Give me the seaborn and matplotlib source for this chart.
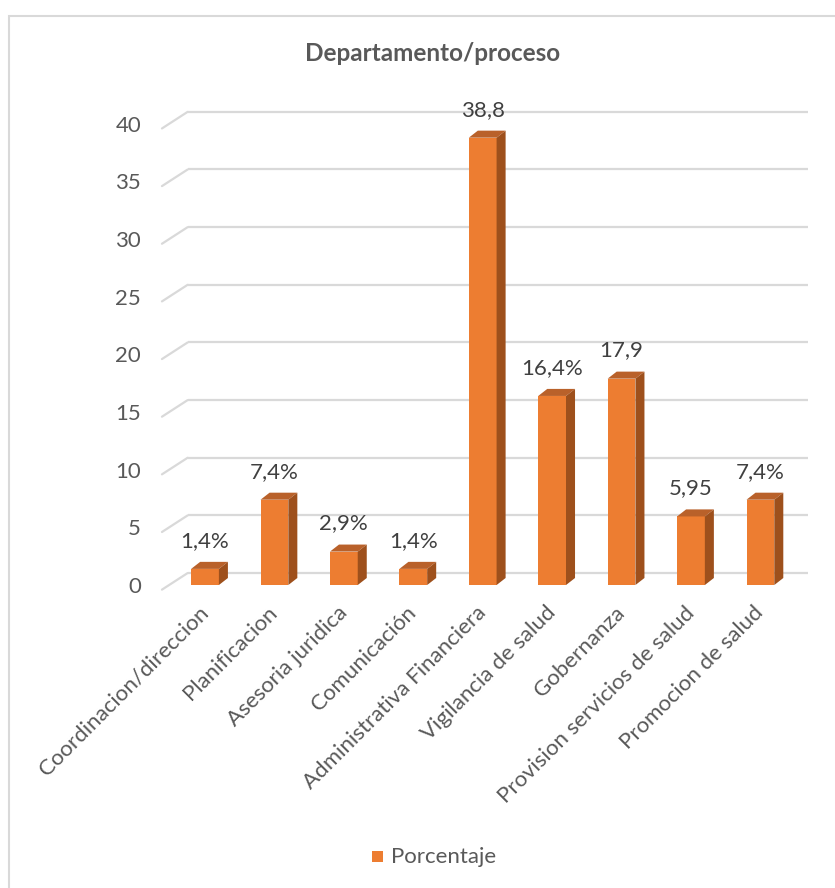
import matplotlib
matplotlib.use("Agg")
import matplotlib.pyplot as plt
from matplotlib.patches import Polygon, Rectangle
import pandas as pd
import seaborn as sns


categories = ["Coordinacion/direccion", "Planificacion", "Asesoria juridica",
              "Comunicación", "Administrativa Financiera", "Vigilancia de salud",
              "Gobernanza", "Provision servicios de salud", "Promocion de salud"]
porcentaje = [1.4, 7.4, 2.9, 1.4, 38.8, 16.4, 17.9, 5.95, 7.4]
labels = ["1,4%", "7,4%", "2,9%", "1,4%", "38,8", "16,4%", "17,9", "5,95", "7,4%"]
yticks = [0, 5, 10, 15, 20, 25, 30, 35, 40]

ORANGE = "#ED7D31"
SIDE = "#9E501C"
TOP = "#B9612A"
GRID = "#D9D9D9"
TXT = "#595959"
FS = 16


def main():
    sns.set_style("white")
    plt.rcParams["font.family"] = ["Lato", "DejaVu Sans"]

    df = pd.DataFrame({"cat": categories, "val": porcentaje})

    fig = plt.figure(figsize=(8.35, 8.88), dpi=100)
    ax = fig.add_axes([0.179, 0.3243, 0.794, 0.5687])

    sns.barplot(data=df, x="cat", y="val", order=categories, color=ORANGE,
                width=0.4, saturation=1, linewidth=0, ax=ax, zorder=3)

    ax.set_xlim(-0.8, 8.75)
    ax.set_ylim(-1.3, 42.5)

    # depth of the fake 3d effect (data units)
    ddx, ddy = 0.13, 0.61
    # back wall offsets
    wx0, wx1, back = -0.62, -0.25, 1.04
    for v in yticks:
        ax.plot([wx1, 8.69], [v + back, v + back], color=GRID, lw=1.6, zorder=1,
                solid_capstyle="butt")
        ax.plot([wx0, wx1], [v - 0.4, v + back], color=GRID, lw=1.6, zorder=1)

    for p, lab in zip(ax.patches, labels):
        x0 = p.get_x()
        x1 = x0 + p.get_width()
        h = p.get_height()
        ax.add_patch(Polygon([(x0, h), (x1, h), (x1 + ddx, h + ddy), (x0 + ddx, h + ddy)],
                             closed=True, facecolor=TOP, edgecolor="none", zorder=3))
        ax.add_patch(Polygon([(x1, 0), (x1 + ddx, ddy), (x1 + ddx, h + ddy), (x1, h)],
                             closed=True, facecolor=SIDE, edgecolor="none", zorder=3))
        ax.annotate(lab, (x0 + p.get_width() / 2, h), xytext=(0, 13),
                    textcoords="offset points", ha="center", va="bottom",
                    fontsize=FS, color="#404040", zorder=4)

    ax.set_yticks(yticks)
    ax.set_yticklabels([str(v) for v in yticks], fontsize=FS, color=TXT)
    ax.tick_params(axis="y", length=0, pad=6)
    ax.set_xticks(range(len(categories)))
    ax.set_xticklabels(categories, fontsize=FS, color=TXT, rotation=45,
                       ha="right", va="center", rotation_mode="anchor")
    ax.tick_params(axis="x", length=0, pad=7)
    ax.set_xlabel("")
    ax.set_ylabel("")
    for s in ax.spines.values():
        s.set_visible(False)

    fig.text(0.518, 0.94, "Departamento/proceso", ha="center", va="center",
             fontsize=17.5, fontweight="bold", color=TXT)

    # legend
    fig.patches.append(Rectangle((372 / 835, 1 - 862 / 888), 11 / 835, 11 / 888,
                                 transform=fig.transFigure, facecolor=ORANGE,
                                 edgecolor="none"))
    fig.text(391 / 835, 1 - 857 / 888, "Porcentaje", ha="left", va="center",
             fontsize=FS, color=TXT)

    # chart border
    fig.patches.append(Rectangle((9 / 835, -0.1), 1.1, 1 - 16 / 888 + 0.1,
                                 transform=fig.transFigure, facecolor="none",
                                 edgecolor=GRID, lw=1.5))

    fig.savefig("out.png", dpi=100, facecolor="white")


if __name__ == "__main__":
    main()
